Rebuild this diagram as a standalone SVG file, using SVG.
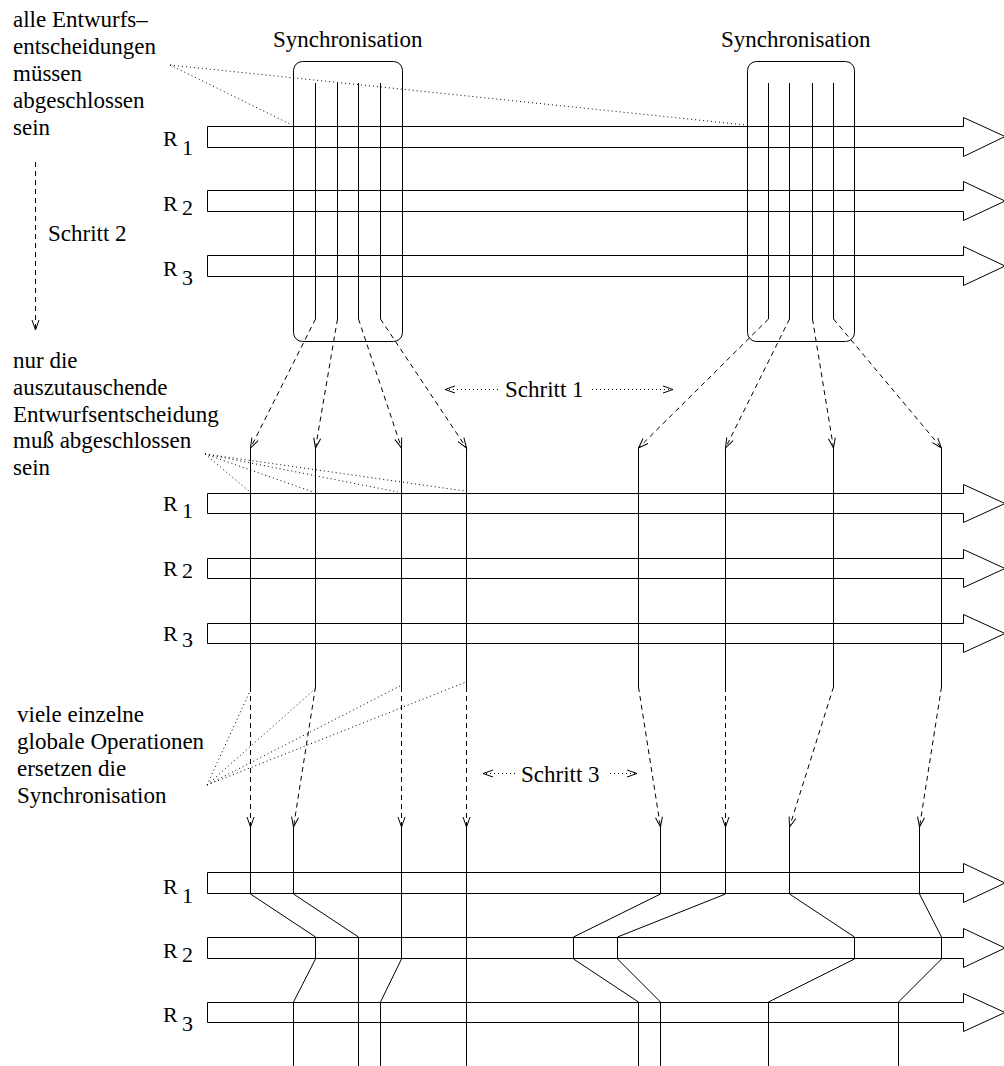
<svg xmlns="http://www.w3.org/2000/svg" width="1004" height="1066" viewBox="0 0 1004 1066">
<style>
text{font-family:"Liberation Serif","Times New Roman",serif;font-size:23px;fill:#000}
.r{font-size:22px}
.bar{fill:none;stroke:#000;stroke-width:1}
.box{fill:none;stroke:#000;stroke-width:1}
.s{fill:none;stroke:#000;stroke-width:1}
.d{fill:none;stroke:#000;stroke-width:1;stroke-dasharray:5,4}
.o{fill:none;stroke:#000;stroke-width:1;stroke-dasharray:1,3}
</style>
<defs>
<marker id="ah" viewBox="-11 -5 12 10" refX="0" refY="0" markerWidth="12" markerHeight="10" markerUnits="userSpaceOnUse" orient="auto">
<path d="M-10,-3.5 L0,0 L-10,3.5" fill="none" stroke="#000" stroke-width="1"/>
</marker>
</defs>
<rect width="1004" height="1066" fill="#fff"/>

<g id="labels">
<text x="13" y="27">alle Entwurfs–</text>
<text x="13" y="54">entscheidungen</text>
<text x="13" y="81">müssen</text>
<text x="13" y="108">abgeschlossen</text>
<text x="13" y="135">sein</text>
<text x="48" y="241">Schritt 2</text>
<text x="13" y="368">nur die</text>
<text x="13" y="395">auszutauschende</text>
<text x="13" y="422">Entwurfsentscheidung</text>
<text x="13" y="448">muß abgeschlossen</text>
<text x="13" y="475">sein</text>
<text x="17" y="722">viele einzelne</text>
<text x="17" y="749">globale Operationen</text>
<text x="17" y="776">ersetzen die</text>
<text x="17" y="803">Synchronisation</text>
<text x="505" y="397">Schritt 1</text>
<text x="521" y="782">Schritt 3</text>
</g>

<g id="sync1">
<text x="273" y="47">Synchronisation</text>
<rect class="box" x="293.5" y="61.5" width="109" height="280" rx="9"/>
</g>
<g id="sync2">
<text x="721" y="47">Synchronisation</text>
<rect class="box" x="747.5" y="61.5" width="107" height="280" rx="9"/>
</g>

<g id="top-R1"><polygon class="bar" points="207.5,126.5 963.5,126.5 963.5,117.5 1005,136.5 963.5,156.5 963.5,147.5 207.5,147.5"/><text class="r" x="163" y="146">R</text><text class="r" x="182" y="155">1</text></g>
<g id="top-R2"><polygon class="bar" points="207.5,190.5 963.5,190.5 963.5,181.5 1005,201 963.5,220.5 963.5,211.5 207.5,211.5"/><text class="r" x="163" y="211">R</text><text class="r" x="182" y="215">2</text></g>
<g id="top-R3"><polygon class="bar" points="207.5,255.5 963.5,255.5 963.5,246.5 1005,266 963.5,285.5 963.5,276.5 207.5,276.5"/><text class="r" x="163" y="276">R</text><text class="r" x="182" y="285">3</text></g>

<g id="mid-R1"><polygon class="bar" points="207.5,493.5 963.5,493.5 963.5,484.5 1005,503.5 963.5,522.5 963.5,513.5 207.5,513.5"/><text class="r" x="163" y="511">R</text><text class="r" x="182" y="518">1</text></g>
<g id="mid-R2"><polygon class="bar" points="207.5,558.5 963.5,558.5 963.5,549.5 1005,568.5 963.5,587.5 963.5,578.5 207.5,578.5"/><text class="r" x="163" y="576">R</text><text class="r" x="182" y="578">2</text></g>
<g id="mid-R3"><polygon class="bar" points="207.5,623.5 963.5,623.5 963.5,614.5 1005,633.5 963.5,652.5 963.5,643.5 207.5,643.5"/><text class="r" x="163" y="641">R</text><text class="r" x="182" y="647">3</text></g>

<g id="bot-R1"><polygon class="bar" points="207.5,872.5 963.5,872.5 963.5,863.5 1005,883 963.5,902.5 963.5,893.5 207.5,893.5"/><text class="r" x="163" y="894">R</text><text class="r" x="182" y="903">1</text></g>
<g id="bot-R2"><polygon class="bar" points="207.5,937.5 963.5,937.5 963.5,928.5 1005,948 963.5,967.5 963.5,958.5 207.5,958.5"/><text class="r" x="163" y="958">R</text><text class="r" x="182" y="962">2</text></g>
<g id="bot-R3"><polygon class="bar" points="207.5,1002.5 963.5,1002.5 963.5,993.5 1005,1012.5 963.5,1031.5 963.5,1022.5 207.5,1022.5"/><text class="r" x="163" y="1022">R</text><text class="r" x="182" y="1031">3</text></g>

<g id="connectors">
<!-- sync verticals -->
<path class="s" d="M315.5,83V319 M337.5,83V319 M358.5,83V319 M380.5,83V319 M768.5,83V319 M789.5,83V319 M812.5,83V319 M833.5,83V319"/>
<!-- dashed from sync boxes -->
<line class="d" x1="315.5" y1="319" x2="250.5" y2="448" marker-end="url(#ah)"/>
<line class="d" x1="337.5" y1="319" x2="315.5" y2="448" marker-end="url(#ah)"/>
<line class="d" x1="358.5" y1="319" x2="401.5" y2="448" marker-end="url(#ah)"/>
<line class="d" x1="380.5" y1="319" x2="466.5" y2="448" marker-end="url(#ah)"/>
<line class="d" x1="768.5" y1="319" x2="638.5" y2="448" marker-end="url(#ah)"/>
<line class="d" x1="789.5" y1="319" x2="725.5" y2="448" marker-end="url(#ah)"/>
<line class="d" x1="812.5" y1="319" x2="833.5" y2="448" marker-end="url(#ah)"/>
<line class="d" x1="833.5" y1="319" x2="941.5" y2="448" marker-end="url(#ah)"/>
<!-- middle verticals -->
<path class="s" d="M250.5,448V687 M315.5,448V687 M401.5,448V687 M466.5,448V687 M638.5,448V687 M725.5,448V687 M833.5,448V687 M941.5,448V687"/>
<!-- dashed to bottom -->
<line class="d" x1="250.5" y1="687" x2="250.5" y2="827" marker-end="url(#ah)"/>
<line class="d" x1="315.5" y1="687" x2="293.5" y2="827" marker-end="url(#ah)"/>
<line class="d" x1="401.5" y1="687" x2="401.5" y2="827" marker-end="url(#ah)"/>
<line class="d" x1="466.5" y1="687" x2="466.5" y2="827" marker-end="url(#ah)"/>
<line class="d" x1="638.5" y1="687" x2="660.5" y2="827" marker-end="url(#ah)"/>
<line class="d" x1="725.5" y1="687" x2="725.5" y2="827" marker-end="url(#ah)"/>
<line class="d" x1="833.5" y1="687" x2="789.5" y2="827" marker-end="url(#ah)"/>
<line class="d" x1="941.5" y1="687" x2="919.5" y2="827" marker-end="url(#ah)"/>
<!-- bottom routes -->
<polyline class="s" points="250.5,827 250.5,894 315.5,937 315.5,959 293.5,1002 293.5,1066"/>
<polyline class="s" points="293.5,827 293.5,894 358.5,937 358.5,1066"/>
<polyline class="s" points="401.5,827 401.5,959 380.5,1002 380.5,1066"/>
<polyline class="s" points="466.5,827 466.5,1066"/>
<polyline class="s" points="660.5,827 660.5,894 573.5,937 573.5,959 638.5,1002 638.5,1066"/>
<polyline class="s" points="725.5,827 725.5,894 617.5,937 617.5,959 660.5,1002 660.5,1066"/>
<polyline class="s" points="789.5,827 789.5,894 854.5,937 854.5,959 768.5,1002 768.5,1066"/>
<polyline class="s" points="919.5,827 919.5,894 941.5,937 941.5,959 898.5,1002 898.5,1066"/>
<!-- annotations -->
<path class="o" d="M170,65L292,125 M170,65L746,125"/>
<path class="o" d="M205,454L250,492 M205,454L313,492 M205,454L398,492 M205,454L465,491"/>
<path class="o" d="M207,785L250,691 M207,785L315,689 M207,785L400,686 M207,785L466,682"/>
<line class="d" x1="35.5" y1="162" x2="35.5" y2="330" marker-end="url(#ah)"/>
<line class="o" x1="498" y1="389.5" x2="445" y2="389.5" marker-end="url(#ah)"/>
<line class="o" x1="592" y1="389.5" x2="673" y2="389.5" marker-end="url(#ah)"/>
<line class="o" x1="515" y1="773.5" x2="483" y2="773.5" marker-end="url(#ah)"/>
<line class="o" x1="610" y1="773.5" x2="637" y2="773.5" marker-end="url(#ah)"/>
</g>
</svg>
